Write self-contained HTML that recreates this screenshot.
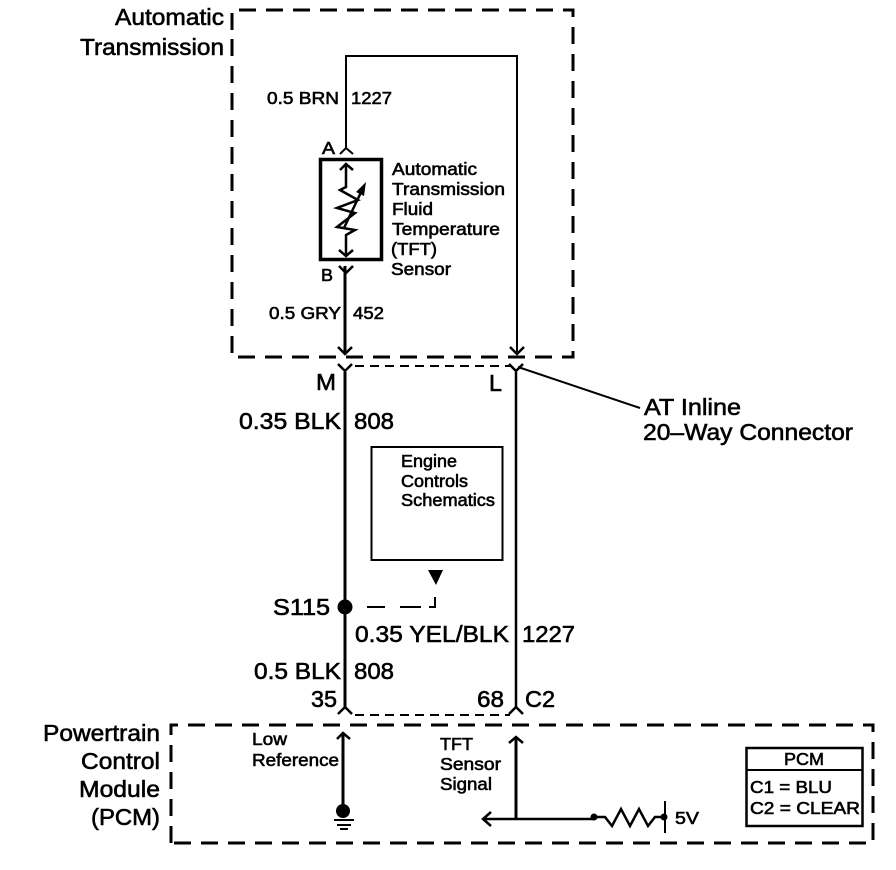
<!DOCTYPE html>
<html><head><meta charset="utf-8"><style>
html,body{margin:0;padding:0;background:#fff}
svg{display:block}
text{font-family:"Liberation Sans",sans-serif;fill:#000;stroke:#000;stroke-width:.6}
.w{fill:none;stroke:#000;stroke-width:2.5}
.t{fill:none;stroke:#000;stroke-width:2}
.d{fill:none;stroke:#000;stroke-width:3;stroke-dasharray:17 10}
.d2{fill:none;stroke:#000;stroke-width:2;stroke-dasharray:9 6}
.a{font-size:23.500px}.b{font-size:17.500px}
</style></head><body>
<svg width="896" height="870" viewBox="0 0 896 870" xmlns="http://www.w3.org/2000/svg">
<rect width="896" height="870" fill="#fff"/>
<!-- dashed enclosures -->
<path class="d" d="M232 30V10H573V357H232V30"/>
<path class="d" d="M171 843V725H873V843H171"/>
<path class="d2" d="M355 366H510"/>
<path class="d2" d="M355 715H510"/>
<!-- upper wires -->
<path class="t" d="M346 148V56H517V352"/>
<path class="t" d="M340 154L346 148L353 154"/>
<path class="w" d="M345 266V354" style="stroke-width:3"/>
<path class="w" d="M338 347L345 354L352 347"/>
<path class="w" d="M510 347L517 354L524 347"/>
<!-- sensor -->
<rect x="320.500" y="159.500" width="61" height="100" fill="none" stroke="#000" stroke-width="3.500"/>
<path class="w" d="M346 164V187L340 190L358 200L337 208L355 213L337 227L355 230L346 235V256"/>
<path class="w" d="M340 170L346 164L353 170M339 250L346 256L353 250"/>
<path class="w" d="M344 228L363 188"/>
<path d="M366 182L356 192L364 196Z" fill="#000"/>
<path class="w" d="M339 266L346 273L353 266"/>
<!-- middle wires -->
<path class="w" d="M345 372V708" style="stroke-width:3"/>
<path class="w" d="M516 372V708"/>
<path class="w" d="M338 364L345 371L352 364"/>
<path class="w" d="M509 364L516 371L523 364"/>
<path class="t" d="M518 367L640 408"/>
<path class="w" d="M338 714L345 707L352 714"/>
<path class="w" d="M509 714L516 707L523 714"/>
<!-- engine box -->
<rect x="371.500" y="447" width="131" height="113" fill="none" stroke="#000" stroke-width="2"/>
<path d="M428 570H443L436 585Z" fill="#000"/>
<circle cx="345" cy="607" r="7.500" fill="#000"/>
<path class="t" d="M367 607H385M400 607H421M429 607H435V597"/>
<!-- PCM internals -->
<path class="w" d="M343 733V812" style="stroke-width:3"/>
<path class="w" d="M337 739L343 733L350 739"/>
<circle cx="343" cy="811" r="7" fill="#000"/>
<path class="t" d="M334 820H354M337 825H351M340 829H348"/>
<path class="w" d="M516 737V819" style="stroke-width:3"/>
<path class="w" d="M509 743L516 737L523 743"/>
<path class="w" d="M483 819H594M491 812L483 819L491 826"/>
<circle cx="594" cy="817" r="3.500" fill="#000"/>
<path class="w" d="M594 817H605L612 826L621 809L630 826L639 809L648 826L655 817H665"/>
<circle cx="664" cy="817" r="3.500" fill="#000"/>
<path class="t" d="M665 801V833"/>
<rect x="746.500" y="748" width="116" height="78" fill="none" stroke="#000" stroke-width="2.500"/>
<path class="t" d="M746 770H862"/>
<!-- labels -->
<text class="a" x="115" y="25" textLength="109" lengthAdjust="spacingAndGlyphs">Automatic</text>
<text class="a" x="80" y="55" textLength="144" lengthAdjust="spacingAndGlyphs">Transmission</text>
<text class="b" x="267" y="104" textLength="72" lengthAdjust="spacingAndGlyphs">0.5 BRN</text>
<text class="b" x="351" y="104" textLength="41" lengthAdjust="spacingAndGlyphs">1227</text>
<text class="b" x="322" y="154" textLength="13" lengthAdjust="spacingAndGlyphs">A</text>
<text class="b" x="321" y="281" textLength="12" lengthAdjust="spacingAndGlyphs">B</text>
<text class="b" x="392" y="175" textLength="85" lengthAdjust="spacingAndGlyphs">Automatic</text>
<text class="b" x="392" y="195" textLength="113" lengthAdjust="spacingAndGlyphs">Transmission</text>
<text class="b" x="392" y="215" textLength="41" lengthAdjust="spacingAndGlyphs">Fluid</text>
<text class="b" x="392" y="235" textLength="108" lengthAdjust="spacingAndGlyphs">Temperature</text>
<text class="b" x="391" y="255" textLength="46" lengthAdjust="spacingAndGlyphs">(TFT)</text>
<text class="b" x="391" y="275" textLength="60" lengthAdjust="spacingAndGlyphs">Sensor</text>
<text class="b" x="269" y="319" textLength="72" lengthAdjust="spacingAndGlyphs">0.5 GRY</text>
<text class="b" x="353" y="319" textLength="31" lengthAdjust="spacingAndGlyphs">452</text>
<text class="a" x="316" y="390" textLength="20" lengthAdjust="spacingAndGlyphs">M</text>
<text class="a" x="489" y="391" textLength="13" lengthAdjust="spacingAndGlyphs">L</text>
<text class="a" x="239" y="429" textLength="102" lengthAdjust="spacingAndGlyphs">0.35 BLK</text>
<text class="a" x="354" y="429" textLength="40" lengthAdjust="spacingAndGlyphs">808</text>
<text class="a" x="644" y="415" textLength="97" lengthAdjust="spacingAndGlyphs">AT Inline</text>
<text class="a" x="643" y="440" textLength="210" lengthAdjust="spacingAndGlyphs">20–Way Connector</text>
<text class="b" x="401" y="467" textLength="56" lengthAdjust="spacingAndGlyphs">Engine</text>
<text class="b" x="401" y="487" textLength="67" lengthAdjust="spacingAndGlyphs">Controls</text>
<text class="b" x="401" y="506" textLength="94" lengthAdjust="spacingAndGlyphs">Schematics</text>
<text class="a" x="273" y="615" textLength="57" lengthAdjust="spacingAndGlyphs">S115</text>
<text class="a" x="355" y="642" textLength="154" lengthAdjust="spacingAndGlyphs">0.35 YEL/BLK</text>
<text class="a" x="522" y="642" textLength="53" lengthAdjust="spacingAndGlyphs">1227</text>
<text class="a" x="254" y="679" textLength="87" lengthAdjust="spacingAndGlyphs">0.5 BLK</text>
<text class="a" x="354" y="679" textLength="40" lengthAdjust="spacingAndGlyphs">808</text>
<text class="a" x="311" y="707" textLength="26" lengthAdjust="spacingAndGlyphs">35</text>
<text class="a" x="477" y="707" textLength="27" lengthAdjust="spacingAndGlyphs">68</text>
<text class="a" x="525" y="707" textLength="30" lengthAdjust="spacingAndGlyphs">C2</text>
<text class="a" x="43" y="741" textLength="117" lengthAdjust="spacingAndGlyphs">Powertrain</text>
<text class="a" x="81" y="769" textLength="79" lengthAdjust="spacingAndGlyphs">Control</text>
<text class="a" x="79" y="797" textLength="81" lengthAdjust="spacingAndGlyphs">Module</text>
<text class="a" x="91" y="825" textLength="69" lengthAdjust="spacingAndGlyphs">(PCM)</text>
<text class="b" x="252" y="745" textLength="35" lengthAdjust="spacingAndGlyphs">Low</text>
<text class="b" x="252" y="766" textLength="87" lengthAdjust="spacingAndGlyphs">Reference</text>
<text class="b" x="440" y="750" textLength="33" lengthAdjust="spacingAndGlyphs">TFT</text>
<text class="b" x="440" y="770" textLength="61" lengthAdjust="spacingAndGlyphs">Sensor</text>
<text class="b" x="440" y="790" textLength="52" lengthAdjust="spacingAndGlyphs">Signal</text>
<text class="b" x="675" y="824" textLength="24" lengthAdjust="spacingAndGlyphs">5V</text>
<text class="b" x="784" y="765" textLength="40" lengthAdjust="spacingAndGlyphs">PCM</text>
<text class="b" x="750" y="793" textLength="82" lengthAdjust="spacingAndGlyphs">C1 = BLU</text>
<text class="b" x="750" y="814" textLength="110" lengthAdjust="spacingAndGlyphs">C2 = CLEAR</text>
</svg>
</body></html>
